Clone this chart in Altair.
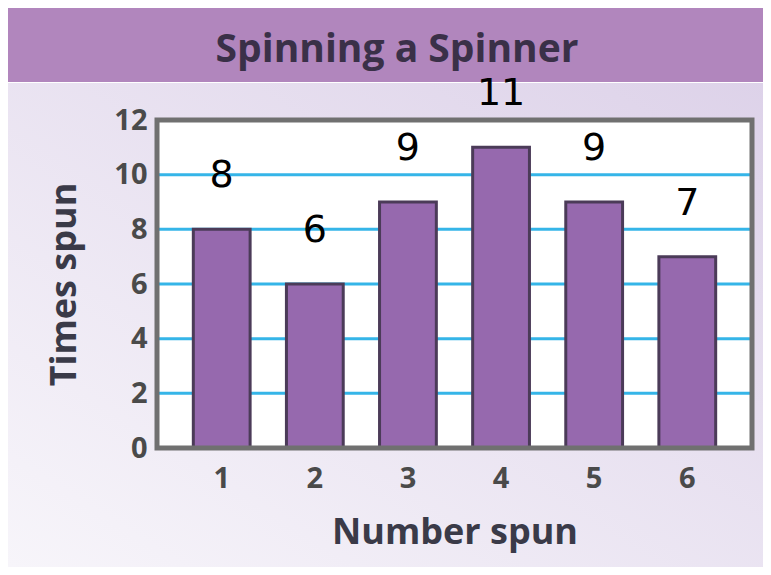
import altair as alt
import pandas as pd

numbers = ["1", "2", "3", "4", "5", "6"]
times = [8, 6, 9, 11, 9, 7]
notes = ["8", "6", "9", "11", "9", "7"]
grid_values = [2, 4, 6, 8, 10]
y_ticks = [0, 2, 4, 6, 8, 10, 12]

W, H = 595, 328

df = pd.DataFrame({"n": numbers, "t": times, "note": notes})
grid_df = pd.DataFrame({"g": grid_values})
one = alt.Data(values=[{}])

yscale = alt.Scale(domain=[0, 12])
xscale = alt.Scale(paddingInner=0.39, paddingOuter=0.39)

common = dict(ticks=False, domain=False, grid=False, zindex=2,
              labelFontSize=29, labelColor="#4a4a4a", labelFontWeight="bold",
              labelFont="Open Sans",
              titleFontSize=36, titleFont="Open Sans", titleFontWeight="bold",
              titleColor="#3a3a48")
y_axis = alt.Axis(title="Times spun", values=y_ticks, labelPadding=10,
                  titlePadding=30, **common)
x_axis = alt.Axis(title="Number spun", labelAngle=0, labelPadding=16,
                  titlePadding=22, **common)

bg = alt.Chart(one).mark_rect(
    fill=alt.Gradient(
        gradient="linear",
        stops=[alt.GradientStop(color="#f7f5fa", offset=0),
               alt.GradientStop(color="#ddd2e9", offset=1)],
        x1=0, y1=1, x2=1, y2=0,
    )
).encode(x=alt.value(-149), x2=alt.value(614), y=alt.value(-37), y2=alt.value(H + 119))

band = alt.Chart(one).mark_rect(fill="#b186bd").encode(
    x=alt.value(-149), x2=alt.value(614), y=alt.value(-112), y2=alt.value(-38)
)

plot_bg = alt.Chart(one).mark_rect(fill="white").encode(
    x=alt.value(0), x2=alt.value(W), y=alt.value(0), y2=alt.value(H)
)

grid = alt.Chart(grid_df).mark_rule(color="#35b5e8", strokeWidth=3).encode(
    y=alt.Y("g:Q", scale=yscale, axis=y_axis),
    x=alt.value(0), x2=alt.value(W),
)

bars = alt.Chart(df).mark_bar(fill="#9669ae", stroke="#4b3b58", strokeWidth=3).encode(
    x=alt.X("n:N", scale=xscale, sort=numbers, axis=x_axis),
    y=alt.Y("t:Q", scale=yscale, axis=y_axis),
)

notes_layer = alt.Chart(df).mark_text(
    font="DejaVu Sans", fontSize=38, color="black", dy=-53, baseline="middle"
).encode(
    x=alt.X("n:N", scale=xscale, sort=numbers),
    y=alt.Y("t:Q", scale=yscale),
    text="note:N",
)

frame = alt.Chart(one).mark_rect(fill=None, stroke="#707070", strokeWidth=5).encode(
    x=alt.value(0), x2=alt.value(W), y=alt.value(0), y2=alt.value(H)
)

title = alt.Chart(one).mark_text(
    text="Spinning a Spinner", font="Open Sans", fontWeight="bold", fontSize=39,
    color="#3a3048", align="center", baseline="middle"
).encode(x=alt.value(240), y=alt.value(-70))

chart = alt.layer(bg, band, plot_bg, grid, bars, notes_layer, frame, title).properties(
    width=W, height=H,
    autosize=alt.AutoSizeParams(type="none"),
    padding={"left": 149, "top": 112, "right": 11, "bottom": 119},
).configure_view(stroke=None).configure(background="white")

chart.save("out.html", embed_options={"renderer": "svg", "actions": False})
